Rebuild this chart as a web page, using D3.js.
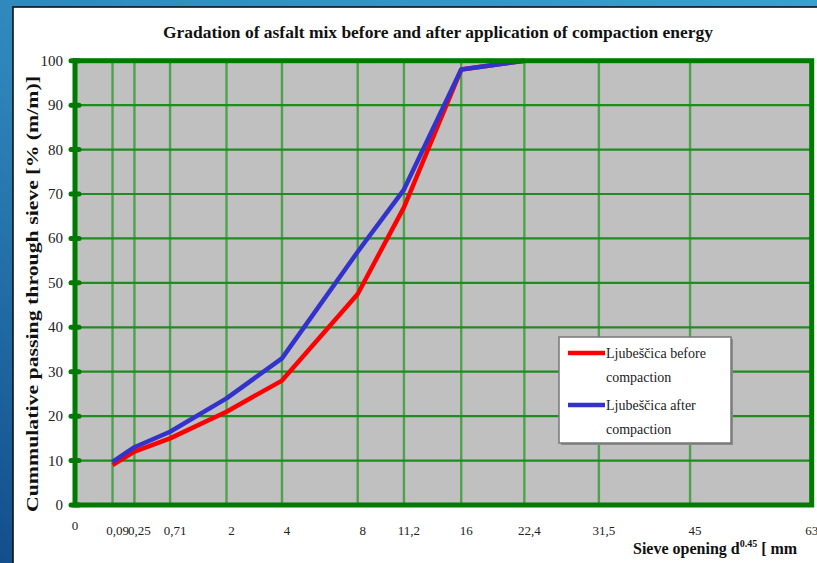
<!DOCTYPE html>
<html>
<head>
<meta charset="utf-8">
<script src="https://cdn.jsdelivr.net/npm/d3@7"></script>
<style>
  html, body { margin: 0; padding: 0; overflow: hidden; background: #2f86bb; }
  svg { display: block; }
</style>
</head>
<body>
<script>
// Sieve sizes (mm) and percentage passing for each mix state
const sieves = [0.09, 0.25, 0.71, 2, 4, 8, 11.2, 16, 22.4];
const beforeCompaction = [9, 12, 15, 21, 28, 47.5, 67, 98, 100];
const afterCompaction = [9.7, 13, 16.5, 24, 33, 57, 71, 98, 100];

// Axis ticks
const xTickValues = [0, 0.09, 0.25, 0.71, 2, 4, 8, 11.2, 16, 22.4, 31.5, 45, 63];
const xTickLabels = ["0", "0,09", "0,25", "0,71", "2", "4", "8", "11,2", "16", "22,4", "31,5", "45", "63"];
const yTickValues = [0, 10, 20, 30, 40, 50, 60, 70, 80, 90, 100];

const seriesNames = ["Ljubeščica before compaction", "Ljubeščica after compaction"];
const seriesColors = ["#ff0000", "#3333cc"];

const W = 817, H = 563;
const plot = { left: 75, right: 811.7, top: 60.7, bottom: 505 };

const svg = d3.select("body").append("svg").attr("width", W).attr("height", H);

// Blue frame background
const defs = svg.append("defs");
const grad = defs.append("linearGradient").attr("id", "frameGrad")
  .attr("x1", "100%").attr("y1", "0%").attr("x2", "0%").attr("y2", "100%");
grad.append("stop").attr("offset", "0%").attr("stop-color", "#3d9fcc");
grad.append("stop").attr("offset", "55%").attr("stop-color", "#2f86bb");
grad.append("stop").attr("offset", "100%").attr("stop-color", "#124f8c");
svg.append("rect").attr("width", W).attr("height", H).attr("fill", "url(#frameGrad)");

// White chart panel
svg.append("rect").attr("x", 13).attr("y", 7).attr("width", 830).attr("height", 580)
  .attr("fill", "#ffffff").attr("stroke", "#111").attr("stroke-width", 1.6);

// Scales: x spaced by d^0.45
const x = d3.scalePow().exponent(0.45).domain([0, 67.2]).range([plot.left, plot.right]);
const y = d3.scaleLinear().domain([0, 100]).range([plot.bottom, plot.top]);

// Plot area
svg.append("rect")
  .attr("x", plot.left).attr("y", plot.top)
  .attr("width", plot.right - plot.left).attr("height", plot.bottom - plot.top)
  .attr("fill", "#c0c0c0");

// Grid (vertical lines at the inner sieve sizes)
const grid = svg.append("g");
grid.selectAll("line.v").data(xTickValues.slice(1, -1))
  .join("line").attr("class", "v")
  .attr("x1", d => x(d)).attr("x2", d => x(d))
  .attr("y1", plot.top).attr("y2", plot.bottom)
  .attr("stroke", "#4ea24e").attr("stroke-width", 2.4);
grid.selectAll("line.h").data(yTickValues.filter(v => v > 0 && v < 100))
  .join("line").attr("class", "h")
  .attr("x1", plot.left).attr("x2", plot.right)
  .attr("y1", d => y(d)).attr("y2", d => y(d))
  .attr("stroke", "#1f8c1f").attr("stroke-width", 2.2);

// Series lines
const line = d3.line().x(d => x(d[0])).y(d => y(d[1]));
[beforeCompaction, afterCompaction].forEach((vals, i) => {
  svg.append("path")
    .datum(sieves.map((s, k) => [s, vals[k]]))
    .attr("d", line)
    .attr("fill", "none")
    .attr("stroke", seriesColors[i])
    .attr("stroke-width", 4.5)
    .attr("stroke-linejoin", "round");
});

// Plot border
svg.append("rect")
  .attr("x", plot.left).attr("y", plot.top)
  .attr("width", plot.right - plot.left).attr("height", plot.bottom - plot.top)
  .attr("fill", "none").attr("stroke", "#007a00").attr("stroke-width", 5);

// Y axis ticks and labels
const yAxis = svg.append("g");
yAxis.selectAll("line").data(yTickValues).join("line")
  .attr("x1", plot.left - 4).attr("x2", plot.left + 4)
  .attr("y1", d => y(d)).attr("y2", d => y(d))
  .attr("stroke", "#007a00").attr("stroke-width", 5).attr("stroke-linecap", "round");
yAxis.selectAll("text").data(yTickValues).join("text")
  .attr("x", 63).attr("y", d => y(d) + 5)
  .attr("text-anchor", "end")
  .attr("font-family", "Liberation Serif, serif").attr("font-size", 15)
  .attr("fill", "#222")
  .text(d => d);

// X axis labels (the last label marks the end of the axis)
svg.append("g").selectAll("text").data(xTickValues).join("text")
  .attr("x", (d, i) => i === 0 ? plot.left : (i === xTickValues.length - 1 ? plot.right : x(d) + 5))
  .attr("y", (d, i) => i === 0 ? 530 : 535)
  .attr("text-anchor", "middle")
  .attr("font-family", "Liberation Serif, serif").attr("font-size", 13)
  .attr("fill", "#222")
  .text((d, i) => xTickLabels[i]);

// Title
svg.append("text")
  .attr("x", 438).attr("y", 38)
  .attr("text-anchor", "middle")
  .attr("font-family", "Liberation Serif, serif").attr("font-weight", "bold").attr("font-size", 16)
  .attr("textLength", 550).attr("lengthAdjust", "spacingAndGlyphs")
  .attr("fill", "#111")
  .text("Gradation of asfalt mix before and after application of compaction energy");

// Y axis title
svg.append("text")
  .attr("transform", "translate(38,294) rotate(-90)")
  .attr("text-anchor", "middle")
  .attr("font-family", "Liberation Serif, serif").attr("font-weight", "bold").attr("font-size", 16)
  .attr("textLength", 436).attr("lengthAdjust", "spacingAndGlyphs")
  .attr("fill", "#111")
  .text("Cummulative passing through sieve [% (m/m)]");

// X axis title
const xt = svg.append("text")
  .attr("x", 633).attr("y", 554)
  .attr("font-family", "Liberation Serif, serif").attr("font-weight", "bold").attr("font-size", 16)
  .attr("fill", "#111");
xt.append("tspan").text("Sieve opening d");
xt.append("tspan").attr("font-size", 10).attr("dy", -7).text("0.45");
xt.append("tspan").attr("dy", 7).text(" [ mm");

// Legend
const lg = svg.append("g").attr("transform", "translate(559,337)");
lg.append("rect").attr("x", 2).attr("y", 2).attr("width", 172).attr("height", 106).attr("fill", "#8a8a8a");
lg.append("rect").attr("width", 172).attr("height", 106).attr("fill", "#fff")
  .attr("stroke", "#777").attr("stroke-width", 1.5);
seriesNames.forEach((name, i) => {
  const g = lg.append("g").attr("transform", `translate(0,${16 + i * 52})`);
  g.append("line").attr("x1", 9).attr("x2", 46).attr("y1", 0).attr("y2", 0)
    .attr("stroke", seriesColors[i]).attr("stroke-width", 4.5);
  const words = name.split(" ");
  const t = g.append("text")
    .attr("font-family", "Liberation Serif, serif").attr("font-size", 14).attr("fill", "#222");
  t.append("tspan").attr("x", 47).attr("y", 5).text(words.slice(0, 2).join(" "));
  t.append("tspan").attr("x", 47).attr("y", 29).text(words.slice(2).join(" "));
});
</script>
</body>
</html>
